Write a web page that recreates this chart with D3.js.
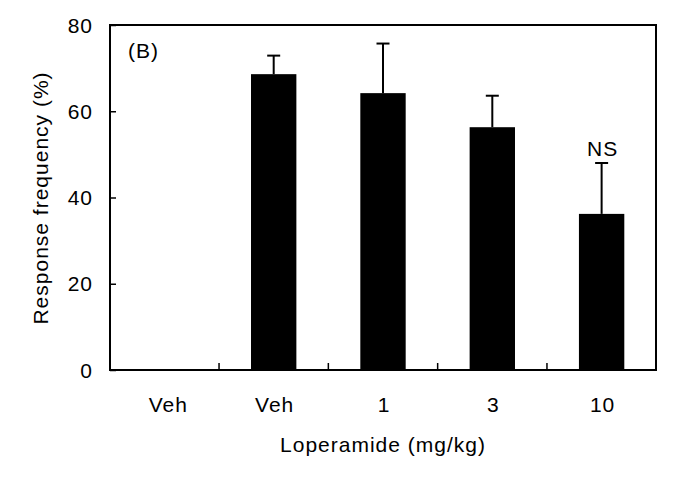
<!DOCTYPE html>
<html><head><meta charset="utf-8">
<script src="https://cdn.jsdelivr.net/npm/d3@7"></script>
<style>body{margin:0;background:#fff}svg{display:block}text{font-family:"Liberation Sans",Arial,sans-serif;fill:#000;font-size:21px;letter-spacing:1px}</style>
</head><body>
<svg id="c" width="686" height="480"></svg>
<script>
const slots = ["s0","s1","s2","s3","s4"];
const catLabels = ["Veh","Veh","1","3","10"];
const means = [null, 68.6, 64.2, 56.3, 36.2];
const errors = [null, 4.3, 11.5, 7.3, 11.8];
const annotations = ["", "", "", "", "NS"];
const yTicks = [0,20,40,60,80];

const svg = d3.select("#c");
const m = {l:110, r:656, t:25, b:370};
const x = d3.scaleBand().domain(slots).range([m.l, m.r]).paddingInner(0.585).paddingOuter(0.29);
const y = d3.scaleLinear().domain([0,80]).range([m.b, m.t]);
const bw = x.bandwidth();
const step = x.step();
// frame
svg.append("rect").attr("x",m.l).attr("y",m.t).attr("width",m.r-m.l).attr("height",m.b-m.t)
  .attr("fill","none").attr("stroke","#000").attr("stroke-width",2);
// y axis
const ya = svg.append("g").attr("transform",`translate(${m.l},0)`)
  .call(d3.axisRight(y).tickValues(yTicks).tickSize(6).tickFormat(""));
ya.select(".domain").remove();
ya.selectAll("line").attr("stroke-width",1.5);
svg.selectAll(".ylab").data(yTicks).join("text").attr("x",m.l-17).attr("y",d=>y(d)+7.5)
  .attr("text-anchor","end").text(d=>d);
// x ticks between categories
const divs = slots.slice(1).map(s => x(s) - (step - bw)/2);
svg.selectAll(".xt").data(divs).join("line").attr("x1",d=>d).attr("x2",d=>d)
  .attr("y1",m.b).attr("y2",m.b-7).attr("stroke","#000").attr("stroke-width",1.5);
// bars
const data = slots.map((s,i)=>({s, v:means[i], e:errors[i], a:annotations[i], l:catLabels[i]}));
const bd = data.filter(d=>d.v!=null);
svg.selectAll(".bar").data(bd).join("rect").attr("x",d=>x(d.s)).attr("width",bw)
  .attr("y",d=>y(d.v)).attr("height",d=>y(0)-y(d.v)).attr("fill","#000");
svg.selectAll(".eb").data(bd).join("line").attr("x1",d=>x(d.s)+bw/2).attr("x2",d=>x(d.s)+bw/2)
  .attr("y1",d=>y(d.v)).attr("y2",d=>y(d.v+d.e)).attr("stroke","#000").attr("stroke-width",2);
svg.selectAll(".ec").data(bd).join("line").attr("x1",d=>x(d.s)+bw/2-6.5).attr("x2",d=>x(d.s)+bw/2+6.5)
  .attr("y1",d=>y(d.v+d.e)).attr("y2",d=>y(d.v+d.e)).attr("stroke","#000").attr("stroke-width",2);
svg.selectAll(".ann").data(bd.filter(d=>d.a)).join("text").attr("x",d=>x(d.s)+bw/2+1)
  .attr("y",d=>y(d.v+d.e)-7).attr("text-anchor","middle").text(d=>d.a);
// category labels
svg.selectAll(".cl").data(data).join("text").attr("x",d=>x(d.s)+bw/2+1+(d.s==="s0"?3:0)).attr("y",412)
  .attr("text-anchor","middle").text(d=>d.l);
// titles
svg.append("text").attr("x",383).attr("y",452).attr("text-anchor","middle").text("Loperamide (mg/kg)");
svg.append("text").attr("transform",`translate(48,198) rotate(-90)`).attr("text-anchor","middle").text("Response frequency (%)");
svg.append("text").attr("x",128).attr("y",58).text("(B)");
</script>
</body></html>
